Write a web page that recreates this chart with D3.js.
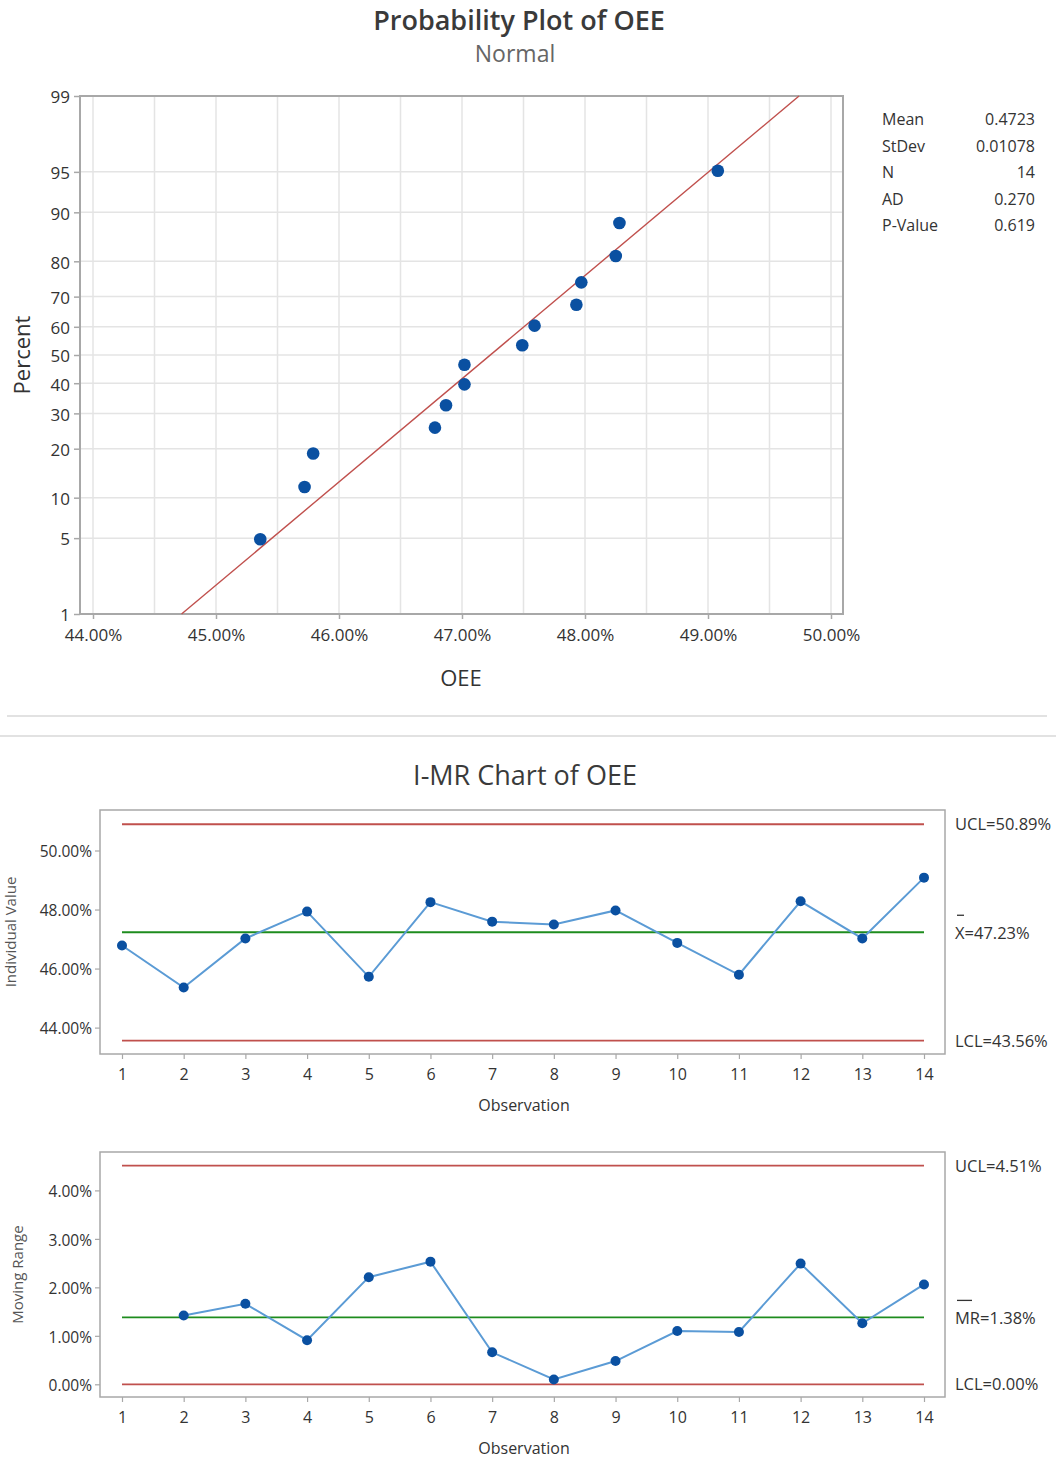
<!DOCTYPE html>
<html><head><meta charset="utf-8">
<script src="https://cdn.jsdelivr.net/npm/d3@7"></script>
<style>
body{margin:0;background:#fff}
svg{display:block}
text{font-family:'Open Sans',sans-serif;fill:#333}
</style>
</head><body>
<svg id="c" width="1056" height="1464"></svg>
<script>
// ---------- data ----------
const observations = [1,2,3,4,5,6,7,8,9,10,11,12,13,14];
const oeeValues = [46.78,45.36,47.02,47.93,45.72,48.25,47.59,47.49,47.97,46.87,45.79,48.28,47.02,49.08]; // %
const mrObservations = [2,3,4,5,6,7,8,9,10,11,12,13,14];
const mrValues = [1.42,1.66,0.91,2.21,2.53,0.66,0.10,0.48,1.10,1.08,2.49,1.26,2.06]; // %
const probX = [45.36,45.72,45.79,46.78,46.87,47.02,47.02,47.49,47.59,47.93,47.97,48.25,48.28,49.08];
const probPct = [4.9,11.8,18.8,25.7,32.6,39.6,46.5,53.5,60.4,67.4,74.3,81.3,88.2,95.1];
const fitLineX = [44.72,49.74];
const fitLinePct = [1,99];
const probYTicks = [1,5,10,20,30,40,50,60,70,80,90,95,99];
const probXTicks = [44,45,46,47,48,49,50];
const probXGrid = [44,44.5,45,45.5,46,46.5,47,47.5,48,48.5,49,49.5,50];
const statLabels = ["Mean","StDev","N","AD","P-Value"];
const statValues = ["0.4723","0.01078","14","0.270","0.619"];
const iTicks = [44,46,48,50];
const iLimitValues = [50.89,47.23,43.56];
const mrTicks = [0,1,2,3,4];
const mrLimitValues = [4.51,1.38,0.00];

// ---------- helpers ----------
function probit(p){
  const a=[-3.969683028665376e+01,2.209460984245205e+02,-2.759285104469687e+02,1.383577518672690e+02,-3.066479806614716e+01,2.506628277459239e+00];
  const b=[-5.447609879822406e+01,1.615858368580409e+02,-1.556989798598866e+02,6.680131188771972e+01,-1.328068155288572e+01];
  const c=[-7.784894002430293e-03,-3.223964580411365e-01,-2.400758277161838e+00,-2.549732539343734e+00,4.374664141464968e+00,2.938163982698783e+00];
  const d=[7.784695709041462e-03,3.224671290700398e-01,2.445134137142996e+00,3.754408661907416e+00];
  const pl=0.02425;let q,r;
  if(p<pl){q=Math.sqrt(-2*Math.log(p));return (((((c[0]*q+c[1])*q+c[2])*q+c[3])*q+c[4])*q+c[5])/((((d[0]*q+d[1])*q+d[2])*q+d[3])*q+1);}
  if(p<=1-pl){q=p-0.5;r=q*q;return (((((a[0]*r+a[1])*r+a[2])*r+a[3])*r+a[4])*r+a[5])*q/(((((b[0]*r+b[1])*r+b[2])*r+b[3])*r+b[4])*r+1);}
  q=Math.sqrt(-2*Math.log(1-p));return -(((((c[0]*q+c[1])*q+c[2])*q+c[3])*q+c[4])*q+c[5])/((((d[0]*q+d[1])*q+d[2])*q+d[3])*q+1);
}
const svg = d3.select("#c");
const RED="#c0504d", GREEN="#1e8c1e", LINE="#5b9bd5", DOT="#0a50a1", FRAME="#a8a8a8", GRID="#e4e4e4";

// ---------- Probability plot ----------
svg.append("text").attr("x",519).attr("y",30).attr("text-anchor","middle")
  .style("font-size","27px").style("font-weight",600).style("fill","#3a3a3a").text("Probability Plot of OEE");
svg.append("text").attr("x",515).attr("y",62).attr("text-anchor","middle")
  .style("font-size","23px").style("fill","#666").text("Normal");

const pL=80,pT=96,pR=843,pB=614;
const px = d3.scaleLinear().domain([44,50]).range([93,831]);
const pz = d3.scaleLinear().domain([probit(0.01),probit(0.99)]).range([pB,pT]);
const py = p => pz(probit(p/100));

const pg = svg.append("g");
pg.selectAll(".vg").data(probXGrid).join("line")
  .attr("x1",d=>px(d)).attr("x2",d=>px(d)).attr("y1",pT).attr("y2",pB)
  .attr("stroke",GRID).attr("stroke-width",1.5);
pg.selectAll(".hg").data(probYTicks.slice(1,-1)).join("line")
  .attr("x1",pL).attr("x2",pR).attr("y1",d=>py(d)).attr("y2",d=>py(d))
  .attr("stroke",GRID).attr("stroke-width",1.5);
pg.append("rect").attr("x",pL).attr("y",pT).attr("width",pR-pL).attr("height",pB-pT)
  .attr("fill","none").attr("stroke",FRAME).attr("stroke-width",2);

const yAx = d3.axisLeft(pz).tickValues(probYTicks.map(p=>probit(p/100)))
  .tickFormat((d,i)=>probYTicks[i]).tickSize(6).tickPadding(4);
const gy = pg.append("g").attr("transform",`translate(${pL},0)`).call(yAx);
const xAx = d3.axisBottom(px).tickValues(probXTicks).tickFormat(d=>d.toFixed(2)+"%").tickSize(5).tickPadding(10);
const gx = pg.append("g").attr("transform",`translate(0,${pB})`).call(xAx);
[gy,gx].forEach(g=>{
  g.select(".domain").remove();
  g.selectAll(".tick line").attr("stroke",FRAME).attr("stroke-width",1.5);
  g.selectAll(".tick text").style("font-size","17px").style("fill","#333").attr("font-family","'Open Sans',sans-serif");
});
gy.selectAll(".tick text").attr("dy","0.4em");

pg.append("line").attr("x1",px(fitLineX[0])).attr("y1",py(fitLinePct[0]))
  .attr("x2",px(fitLineX[1])).attr("y2",py(fitLinePct[1]))
  .attr("stroke",RED).attr("stroke-width",1.4);
pg.selectAll(".pp").data(probX).join("circle")
  .attr("cx",d=>px(d)).attr("cy",(d,i)=>py(probPct[i])).attr("r",6.3).attr("fill",DOT);

svg.append("text").attr("transform","translate(30,355) rotate(-90)").attr("text-anchor","middle")
  .style("font-size","22px").text("Percent");
svg.append("text").attr("x",461).attr("y",686).attr("text-anchor","middle")
  .style("font-size","22px").text("OEE");

const st = svg.append("g");
st.selectAll(".sl").data(statLabels).join("text").attr("x",882).attr("y",(d,i)=>125+i*26.5)
  .style("font-size","16px").text(d=>d);
st.selectAll(".sv").data(statValues).join("text").attr("x",1035).attr("y",(d,i)=>125+i*26.5)
  .attr("text-anchor","end").style("font-size","16px").text(d=>d);

// separators
svg.append("line").attr("x1",7).attr("x2",1047).attr("y1",716).attr("y2",716).attr("stroke","#d9d9d9").attr("stroke-width",1.5);
svg.append("line").attr("x1",0).attr("x2",1056).attr("y1",736).attr("y2",736).attr("stroke","#d9d9d9").attr("stroke-width",1.5);

// ---------- I-MR ----------
svg.append("text").attr("x",525).attr("y",785).attr("text-anchor","middle")
  .style("font-size","27px").style("font-weight",500).style("fill","#3a3a3a").text("I-MR Chart of OEE");

const cL=100,cR=945;
const xo = d3.scaleLinear().domain([1,14]).range([122,924]);

function controlChart(opts){
  const {top,bottom,y,ticks,xs,vals,limits,labels,yLabel,labelX,barW} = opts;
  const g = svg.append("g");
  g.append("rect").attr("x",cL).attr("y",top).attr("width",cR-cL).attr("height",bottom-top)
    .attr("fill","none").attr("stroke",FRAME).attr("stroke-width",1.5);
  const ya = d3.axisLeft(y).tickValues(ticks).tickFormat(d=>d.toFixed(2)+"%").tickSize(5).tickPadding(3);
  const gy = g.append("g").attr("transform",`translate(${cL},0)`).call(ya);
  const xa = d3.axisBottom(xo).tickValues(observations).tickFormat(d=>d).tickSize(5).tickPadding(10);
  const gx = g.append("g").attr("transform",`translate(0,${bottom})`).call(xa);
  [gy,gx].forEach(a=>{
    a.select(".domain").remove();
    a.selectAll(".tick line").attr("stroke",FRAME).attr("stroke-width",1.2);
    a.selectAll(".tick text").style("font-size","16px").style("fill","#333").attr("font-family","'Open Sans',sans-serif");
  });
  gy.selectAll(".tick text").style("font-size","15.5px").attr("dy","0.4em");
  limits.forEach((v,i)=>{
    g.append("line").attr("x1",xo(1)).attr("x2",xo(14)).attr("y1",y(v)).attr("y2",y(v))
      .attr("stroke",i===1?GREEN:RED).attr("stroke-width",1.8);
  });
  g.append("path").datum(vals).attr("fill","none").attr("stroke",LINE).attr("stroke-width",2)
    .attr("d",d3.line().x((d,i)=>xo(xs[i])).y(d=>y(d)));
  g.selectAll(".pt").data(vals).join("circle").attr("cx",(d,i)=>xo(xs[i])).attr("cy",d=>y(d))
    .attr("r",5).attr("fill",DOT);
  limits.forEach((v,i)=>{
    g.append("text").attr("x",955).attr("y",y(v)+(i===1?7:6)).style("font-size","16.5px").text(labels[i]);
  });
  g.append("line").attr("x1",957).attr("x2",957+barW).attr("y1",y(limits[1])-17).attr("y2",y(limits[1])-17)
    .attr("stroke","#333").attr("stroke-width",1.3);
  g.append("text").attr("transform",`translate(${labelX},${(top+bottom)/2}) rotate(-90)`)
    .attr("text-anchor","middle").style("font-size","15px").style("fill","#555").text(yLabel);
  g.append("text").attr("x",524).attr("y",bottom+57).attr("text-anchor","middle")
    .style("font-size","16px").text("Observation");
}

const yI = d3.scaleLinear().domain([44,50]).range([1027.6,850.5]);
controlChart({top:810,bottom:1054,y:yI,ticks:iTicks,xs:observations,vals:oeeValues,
  limits:iLimitValues,
  labels:["UCL="+iLimitValues[0].toFixed(2)+"%","X="+iLimitValues[1].toFixed(2)+"%","LCL="+iLimitValues[2].toFixed(2)+"%"],
  yLabel:"Individual Value",labelX:16,barW:7});

const yM = d3.scaleLinear().domain([0,4]).range([1384.3,1190.4]);
controlChart({top:1152,bottom:1397,y:yM,ticks:mrTicks,xs:mrObservations,vals:mrValues,
  limits:mrLimitValues,
  labels:["UCL="+mrLimitValues[0].toFixed(2)+"%","MR="+mrLimitValues[1].toFixed(2)+"%","LCL="+mrLimitValues[2].toFixed(2)+"%"],
  yLabel:"Moving Range",labelX:23,barW:15});
</script>
</body></html>
